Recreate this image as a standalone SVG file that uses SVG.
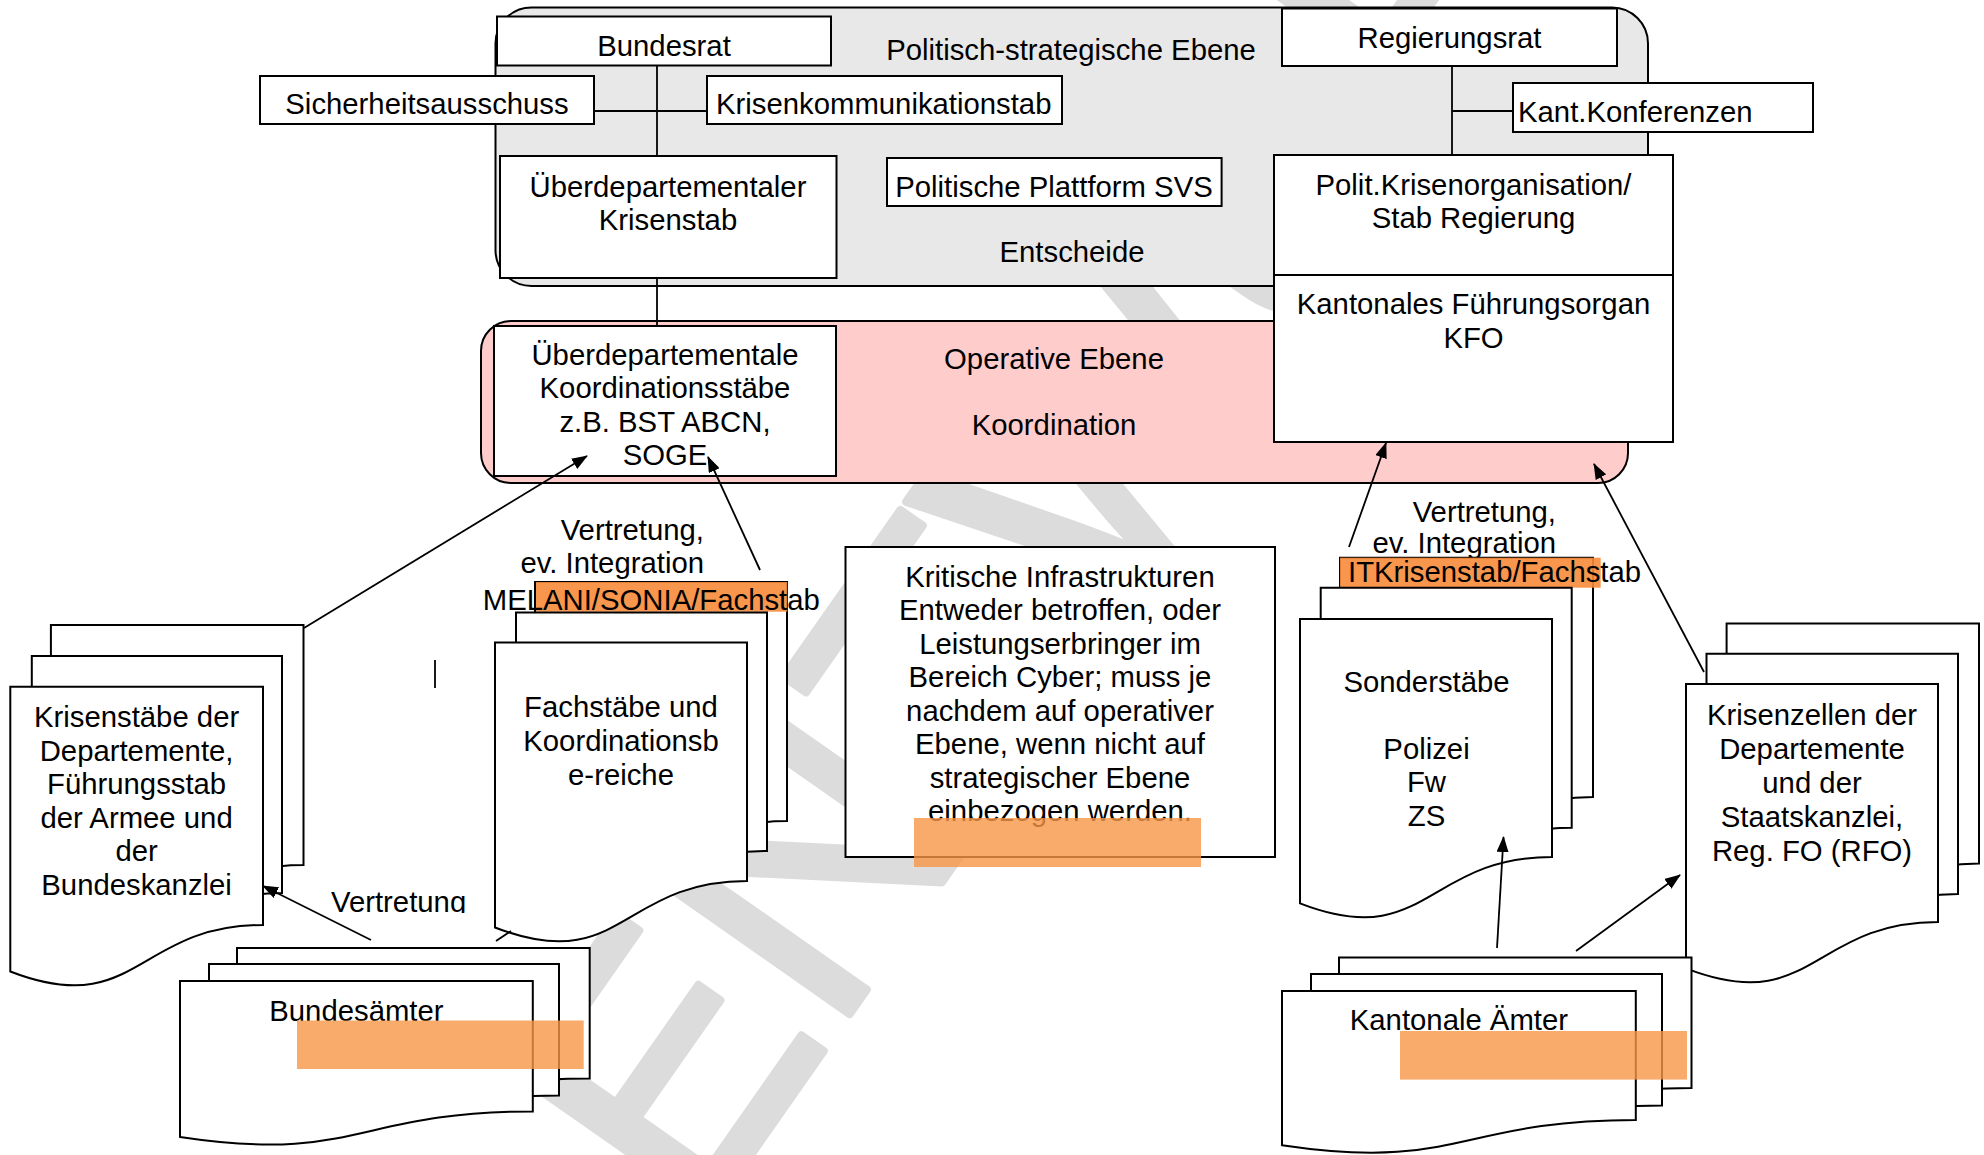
<svg xmlns="http://www.w3.org/2000/svg" width="1984" height="1155" viewBox="0 0 1984 1155">
<defs>
<style>
.t{font-family:"Liberation Sans",Arial,sans-serif;font-size:29.3px;fill:#000}
.c{text-anchor:middle}
.e{text-anchor:end}
.b{fill:#fff;stroke:#000;stroke-width:2}
.p{fill:#fff;stroke:#000;stroke-width:2;stroke-linejoin:miter}
.ln{stroke:#000;stroke-width:1.8;fill:none}
.ar{stroke:#000;stroke-width:1.8;fill:none;marker-end:url(#ah)}
.o1{fill:#f68b38;opacity:0.9}
.o2{fill:#f79646;opacity:0.8}
.wm{font-family:"Liberation Sans",Arial,sans-serif;font-size:360px;fill:#dcdcdc;stroke:#dcdcdc;stroke-width:8;stroke-linejoin:round}
</style>
<marker id="ah" viewBox="0 0 16 12" markerWidth="16" markerHeight="12" refX="15" refY="6" orient="auto" markerUnits="userSpaceOnUse">
<path d="M0,0 L16,6 L0,12 Z" fill="#000"/>
</marker>
<clipPath id="cv"><rect x="300" y="860" width="200" height="53"/></clipPath>
<clipPath id="page"><rect x="0" y="0" width="1984" height="1155"/></clipPath>
</defs>
<rect width="1984" height="1155" fill="#fff"/>
<g id="watermark" clip-path="url(#page)">
<text class="wm" transform="translate(695,1235) rotate(-55)">ENTWURF</text>
</g>
<g id="politisch">
<rect x="495.5" y="7.5" width="1152.5" height="278.5" rx="36" fill="#e8e8e8" stroke="#000" stroke-width="2"/>
<text class="t c" x="1071" y="60">Politisch-strategische Ebene</text>
<text class="t c" x="1072" y="261.5">Entscheide</text>
</g>
<g id="operativ">
<rect x="481" y="321" width="1147" height="162" rx="30" fill="#ffcccc" stroke="#000" stroke-width="2"/>
<text class="t c" x="1054" y="368.5">Operative Ebene</text>
<text class="t c" x="1054" y="435">Koordination</text>
</g>
<g id="bundesrat"><rect class="b" x="497" y="16.5" width="334" height="49"/><text class="t c" x="664" y="55.5">Bundesrat</text></g>
<g id="sicherheitsausschuss"><rect class="b" x="260" y="76" width="334" height="48"/><text class="t c" x="427" y="114.2">Sicherheitsausschuss</text></g>
<g id="krisenkommunikationstab"><rect class="b" x="707" y="76" width="355" height="48"/><text class="t" x="716" y="114.2">Krisenkommunikationstab</text></g>
<g id="ueberdep-krisenstab"><rect class="b" x="500" y="156" width="336.5" height="122"/><text class="t c" x="668" y="196.5">Überdepartementaler</text><text class="t c" x="668" y="230">Krisenstab</text></g>
<g id="plattform-svs"><rect class="b" x="887" y="158" width="334.6" height="48"/><text class="t c" x="1054" y="196.5">Politische Plattform SVS</text></g>
<g id="regierungsrat"><rect class="b" x="1282" y="8.5" width="335" height="57.5"/><text class="t c" x="1449.5" y="47.5">Regierungsrat</text></g>
<g id="kant-konferenzen"><rect class="b" x="1513" y="83" width="300" height="49"/><text class="t" x="1518" y="121.5">Kant.Konferenzen</text></g>
<g id="polit-krisenorg"><rect class="b" x="1274" y="155" width="399" height="120"/><text class="t c" x="1473.5" y="194.5">Polit.Krisenorganisation/</text><text class="t c" x="1473.5" y="228">Stab Regierung</text></g>
<g id="kfo"><rect class="b" x="1274" y="275" width="399" height="167"/><text class="t c" x="1473.5" y="314">Kantonales Führungsorgan</text><text class="t c" x="1473.5" y="347.5">KFO</text></g>
<g id="koordinationsstaebe"><rect class="b" x="494" y="326" width="342" height="150"/>
<text class="t c" x="665" y="364.8">Überdepartementale</text><text class="t c" x="665" y="398.2">Koordinationsstäbe</text><text class="t c" x="665" y="431.5">z.B. BST ABCN,</text><text class="t c" x="665" y="464.8">SOGE</text></g>
<g id="kritische-infrastrukturen"><rect class="b" x="845.5" y="547" width="429.5" height="310"/>
<text class="t c" x="1060" y="586.5">Kritische Infrastrukturen</text>
<text class="t c" x="1060" y="620">Entweder betroffen, oder</text>
<text class="t c" x="1060" y="653.5">Leistungserbringer im</text>
<text class="t c" x="1060" y="687">Bereich Cyber; muss je</text>
<text class="t c" x="1060" y="720.5">nachdem auf operativer</text>
<text class="t c" x="1060" y="754">Ebene, wenn nicht auf</text>
<text class="t c" x="1060" y="787.5">strategischer Ebene</text>
<text class="t c" x="1060" y="821">einbezogen werden.</text>
<rect class="o2" x="914" y="818" width="287" height="49"/>
</g>
<g id="krisenstaebe">
<path class="p" d="M50.9,625 H303.5 V865 C177.2,865 177.2,961 50.9,911.8 Z"/>
<path class="p" d="M31.8,656 H282 V893 C156.9,893 156.9,987.8 31.8,939.2 Z"/>
<path class="p" d="M10.3,686.7 H263 V925 C136.65,925 136.65,1020.3 10.3,971.5 Z"/>
<text class="t c" x="136.6" y="727">Krisenstäbe der</text>
<text class="t c" x="136.6" y="760.5">Departemente,</text>
<text class="t c" x="136.6" y="794">Führungsstab</text>
<text class="t c" x="136.6" y="827.5">der Armee und</text>
<text class="t c" x="136.6" y="861">der</text>
<text class="t c" x="136.6" y="894.5">Bundeskanzlei</text>
</g>
<g id="fachstaebe">
<text class="t e" x="704" y="539.5">Vertretung,</text>
<text class="t e" x="704" y="573">ev. Integration</text>
<path class="p" d="M535,582 H787 V821 C661,821 661,916.6 535,867.6 Z"/>
<rect class="o1" x="536" y="582" width="251.3" height="29.7"/>
<text class="t" x="482.8" y="609.5">MELANI/SONIA/Fachstab</text>
<path class="p" d="M516,612.4 H767 V851 C641.5,851 641.5,946.4 516,897.5 Z"/>
<path class="p" d="M495,642.5 H747 V881 C621,881 621,976.4 495,927.5 Z"/>
<text class="t c" x="621" y="716.5">Fachstäbe und</text>
<text class="t c" x="621" y="750.5">Koordinationsb</text>
<text class="t c" x="621" y="784.5">e-reiche</text>
</g>
<g id="bundesaemter">
<path class="p" d="M237,948 H589.7 V1078.6 C413.35,1078.6 413.35,1130.8 237,1104 Z"/>
<path class="p" d="M209,964 H559 V1095.6 C384,1095.6 384,1148.2 209,1121.3 Z"/>
<path class="p" d="M180,981 H532.8 V1111.5 C356.4,1111.5 356.4,1163.7 180,1137 Z"/>
<text class="t c" x="356.4" y="1021">Bundesämter</text>
<rect class="o2" x="297" y="1020.5" width="286.7" height="48.5"/>
</g>
<g id="sonderstaebe">
<text class="t e" x="1556" y="521.5">Vertretung,</text>
<text class="t e" x="1556" y="553">ev. Integration</text>
<path class="p" d="M1340,557.7 H1593 V797 C1466.5,797 1466.5,892.7 1340,843.7 Z"/>
<rect class="o1" x="1340" y="557.7" width="260.7" height="30"/>
<text class="t" x="1348" y="581.5">ITKrisenstab/Fachstab</text>
<path class="p" d="M1320.7,587.7 H1571.7 V827.7 C1446.2,827.7 1446.2,923.7 1320.7,874.5 Z"/>
<path class="p" d="M1300,619 H1552 V857 C1426,857 1426,952.2 1300,903.4 Z"/>
<text class="t c" x="1426.5" y="691.5">Sonderstäbe</text>
<text class="t c" x="1426.5" y="758.5">Polizei</text>
<text class="t c" x="1426.5" y="792">Fw</text>
<text class="t c" x="1426.5" y="825.5">ZS</text>
</g>
<g id="krisenzellen">
<path class="p" d="M1726.6,623.5 H1979 V863.5 C1852.8,863.5 1852.8,959.5 1726.6,910.3 Z"/>
<path class="p" d="M1706.5,653.7 H1958 V894 C1832.25,894 1832.25,990.1 1706.5,940.9 Z"/>
<path class="p" d="M1686,684 H1938 V922 C1812,922 1812,1017.2 1686,968.4 Z"/>
<text class="t c" x="1812" y="724.5">Krisenzellen der</text>
<text class="t c" x="1812" y="758.5">Departemente</text>
<text class="t c" x="1812" y="792.5">und der</text>
<text class="t c" x="1812" y="826.5">Staatskanzlei,</text>
<text class="t c" x="1812" y="860.5">Reg. FO (RFO)</text>
</g>
<g id="kantonale-aemter">
<path class="p" d="M1339,957.6 H1691.5 V1088 C1515.25,1088 1515.25,1140.2 1339,1113.4 Z"/>
<path class="p" d="M1311,974 H1662 V1105.5 C1486.5,1105.5 1486.5,1158.1 1311,1131.1 Z"/>
<path class="p" d="M1282,991 H1635.8 V1120 C1458.9,1120 1458.9,1171.6 1282,1145.2 Z"/>
<text class="t c" x="1458.9" y="1030">Kantonale Ämter</text>
<rect class="o2" x="1400" y="1031" width="287" height="48.6"/>
</g>
<g id="labels">
<text class="t" x="331" y="912" clip-path="url(#cv)">Vertretung</text>
<line class="ln" x1="435" y1="660" x2="435" y2="688"/>
</g>
<g id="connectors">
<line class="ln" x1="594" y1="111" x2="707" y2="111"/>
<line class="ln" x1="657" y1="66" x2="657" y2="156"/>
<line class="ln" x1="657" y1="278" x2="657" y2="326"/>
<line class="ln" x1="1452" y1="66" x2="1452" y2="155"/>
<line class="ln" x1="1452" y1="111" x2="1513" y2="111"/>
<line class="ar" x1="304" y1="628" x2="587" y2="456"/>
<line class="ar" x1="760" y1="570" x2="708" y2="457"/>
<line class="ar" x1="371" y1="940" x2="263" y2="886"/>
<line class="ln" x1="496" y1="941" x2="511" y2="931"/>
<line class="ar" x1="1349" y1="547" x2="1386" y2="443"/>
<line class="ar" x1="1704" y1="672" x2="1594" y2="464"/>
<line class="ar" x1="1497" y1="948" x2="1503.5" y2="837"/>
<line class="ar" x1="1576" y1="951" x2="1680" y2="875"/>
</g>
</svg>
